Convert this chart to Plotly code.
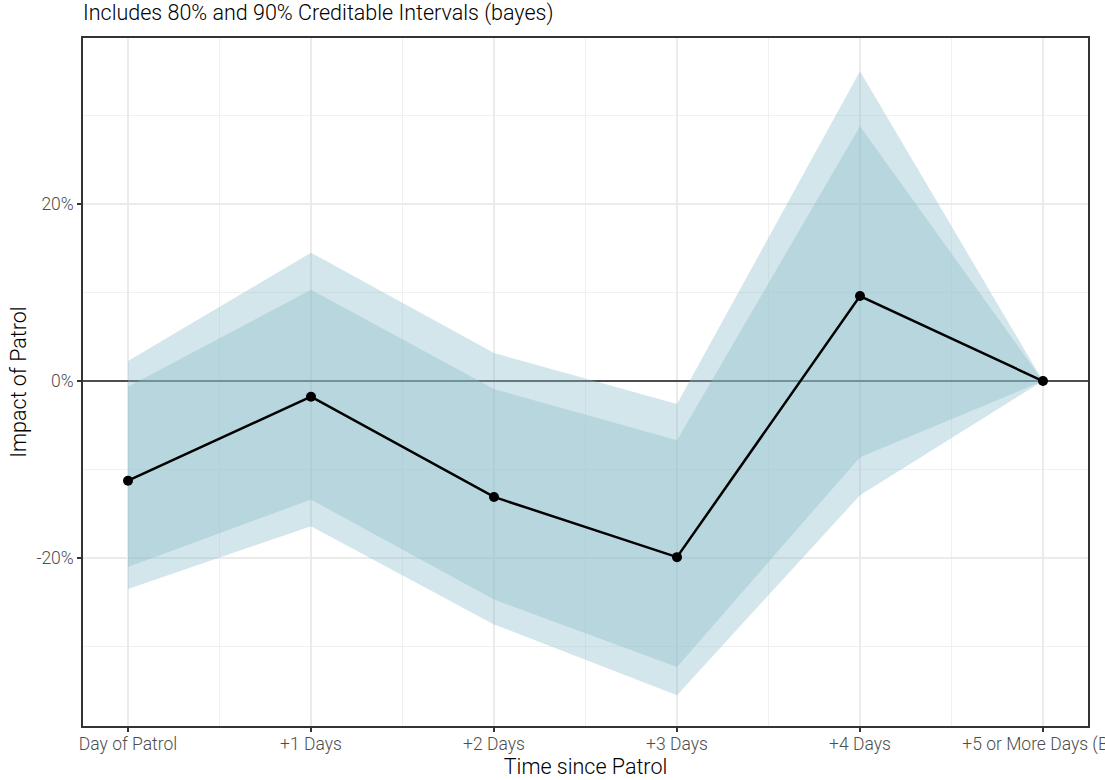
import plotly.graph_objects as go

categories = ["Day of Patrol", "+1 Days", "+2 Days", "+3 Days", "+4 Days", "+5 or More Days (BL)"]
estimate = [-0.1126, -0.0177, -0.131, -0.199, 0.096, 0.0]
upper90 = [0.0226, 0.145, 0.0316, -0.026, 0.350, 0.0]
lower90 = [-0.235, -0.164, -0.275, -0.355, -0.129, 0.0]
upper80 = [-0.0064, 0.103, -0.009, -0.067, 0.288, 0.0]
lower80 = [-0.210, -0.134, -0.247, -0.323, -0.086, 0.0]

xpos = list(range(len(categories)))
ribbon = "rgba(140,188,202,0.38)"
font_family = "Roboto"

fig = go.Figure()
for lo, hi in [(lower90, upper90), (lower80, upper80)]:
    fig.add_trace(go.Scatter(x=xpos, y=lo, mode="lines", line=dict(width=0),
                             showlegend=False, hoverinfo="skip"))
    fig.add_trace(go.Scatter(x=xpos, y=hi, mode="lines", line=dict(width=0),
                             fill="tonexty", fillcolor=ribbon,
                             showlegend=False, hoverinfo="skip"))
fig.add_trace(go.Scatter(x=xpos, y=estimate, mode="lines+markers",
                         line=dict(color="black", width=2.5),
                         marker=dict(color="black", size=10),
                         showlegend=False))

fig.update_layout(
    width=1105, height=780,
    margin=dict(l=83, r=17, t=38, b=54),
    plot_bgcolor="white", paper_bgcolor="white",
    font=dict(family=font_family, color="black"),
    title=dict(text="Includes 80% and 90% Creditable Intervals (bayes)",
               x=0, xref="paper", xanchor="left", y=1, yref="container",
               yanchor="top", pad=dict(t=5),
               font=dict(family=font_family, size=21.5, color="black", weight=300)),
    showlegend=False,
)
fig.update_xaxes(
    range=[-0.246, 5.246], tickmode="array", tickvals=xpos, ticktext=categories,
    automargin=False,
    showgrid=True, gridcolor="#EBEBEB", gridwidth=1.5,
    minor=dict(tickmode="array", tickvals=[i + 0.5 for i in xpos[:-1]],
               showgrid=True, gridcolor="#F0F0F0", gridwidth=1, ticks=""),
    zeroline=False, showline=True, linecolor="#333333", linewidth=1.5, mirror=True,
    ticks="outside", ticklen=4, tickcolor="#333333", tickwidth=1.5,
    ticklabeloverflow="allow", ticklabelstandoff=-3,
    tickfont=dict(family=font_family, size=17.5, color="#4D4D4D", weight=300),
    title=dict(text="Time since Patrol", standoff=2,
               font=dict(family=font_family, size=21.5, color="black", weight=300)),
)
fig.update_yaxes(
    range=[-0.3898, 0.3876], tickmode="array", tickvals=[-0.2, 0, 0.2],
    ticktext=["-20%", "0%", "20%"], automargin=False,
    showgrid=True, gridcolor="#EBEBEB", gridwidth=1.5,
    minor=dict(tickmode="array", tickvals=[-0.3, -0.1, 0.1, 0.3],
               showgrid=True, gridcolor="#F0F0F0", gridwidth=1, ticks=""),
    zeroline=True, zerolinecolor="#4D4D4D", zerolinewidth=2,
    showline=True, linecolor="#333333", linewidth=1.5, mirror=True,
    ticks="outside", ticklen=4, tickcolor="#333333", tickwidth=1.5,
    tickfont=dict(family=font_family, size=17.5, color="#4D4D4D", weight=300),
    title=dict(text="Impact of Patrol", standoff=4,
               font=dict(family=font_family, size=21.5, color="black", weight=300)),
)

fig.write_html("out.html")
